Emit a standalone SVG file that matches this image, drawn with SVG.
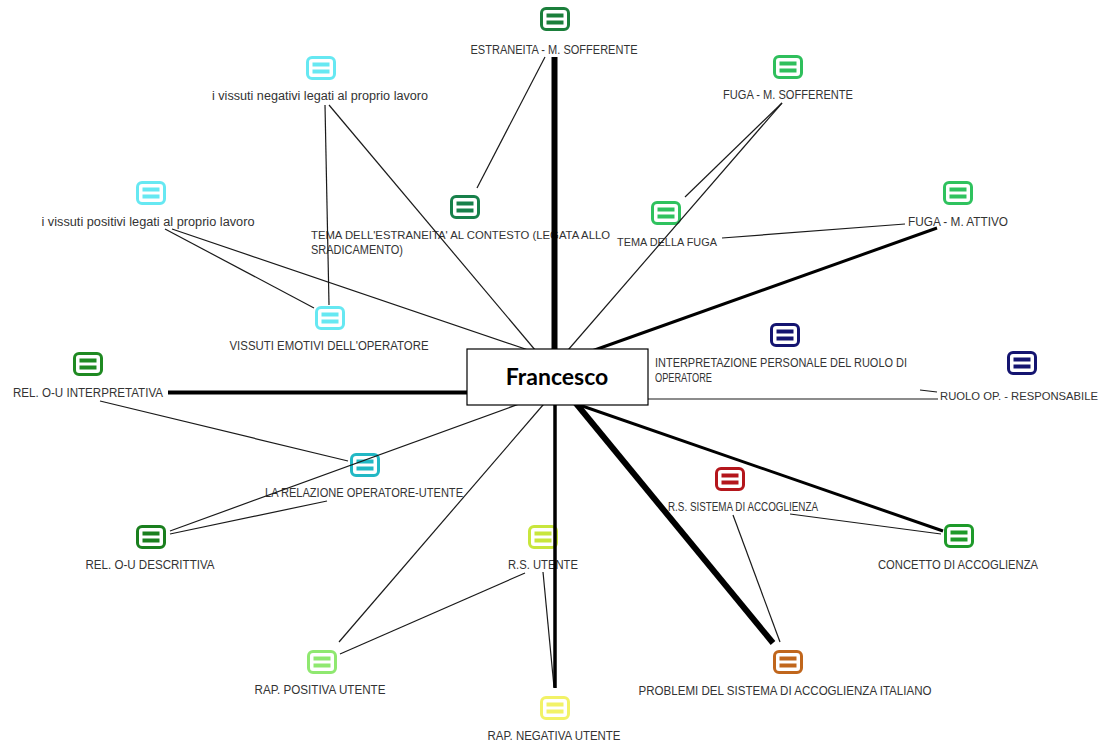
<svg xmlns="http://www.w3.org/2000/svg" xmlns:xlink="http://www.w3.org/1999/xlink" width="1108" height="746" viewBox="0 0 1108 746">
  <style>
    .lbl { font-family: "Liberation Sans", Arial, sans-serif; font-size: 12.5px; fill: #333333; }
    .sm { font-size: 11.3px; }
    .mid { text-anchor: middle; }
    .thin { stroke: #1a1a1a; stroke-width: 1.2; fill: none; }
    .thick { stroke: #000000; fill: none; }
    .hub { fill: #ffffff; stroke: #000000; stroke-width: 1.2; }
    .hubtxt { font-family: Lato, "Open Sans", sans-serif; font-weight: bold; font-size: 23px; fill: #000000; text-anchor: middle; }
  </style>
  <defs>
    <!-- note icon: rounded frame with two bars, coloured through currentColor -->
    <g id="note">
      <rect x="-13.5" y="-10.5" width="27" height="21" rx="4.5" fill="#ffffff" stroke="currentColor" stroke-width="3"/>
      <rect x="-8.5" y="-5.5" width="17" height="4" fill="currentColor"/>
      <rect x="-8.5" y="1.5" width="17" height="4" fill="currentColor"/>
    </g>
  </defs>
  <rect width="1108" height="746" fill="#ffffff"/>

  <!-- topic nodes -->
  <g id="n-estraneita-sofferente">
    <use xlink:href="#note" x="555" y="19" color="#1b7f3b"/>
    <text class="lbl mid" x="554" y="54" textLength="167" lengthAdjust="spacingAndGlyphs">ESTRANEITA - M. SOFFERENTE</text>
  </g>
  <g id="n-fuga-sofferente">
    <use xlink:href="#note" x="788" y="67" color="#2fbf5c"/>
    <text class="lbl mid" x="788" y="99" textLength="130" lengthAdjust="spacingAndGlyphs">FUGA - M. SOFFERENTE</text>
  </g>
  <g id="n-vissuti-negativi">
    <use xlink:href="#note" x="321" y="68" color="#66e8f2"/>
    <text class="lbl mid" x="320" y="100" textLength="216" lengthAdjust="spacingAndGlyphs">i vissuti negativi legati al proprio lavoro</text>
  </g>
  <g id="n-vissuti-positivi">
    <use xlink:href="#note" x="151" y="193" color="#66e8f2"/>
    <text class="lbl mid" x="148" y="226" textLength="213" lengthAdjust="spacingAndGlyphs">i vissuti positivi legati al proprio lavoro</text>
  </g>
  <g id="n-tema-estraneita">
    <use xlink:href="#note" x="465" y="207" color="#17804a"/>
    <text class="lbl sm" x="311" y="239" textLength="299" lengthAdjust="spacingAndGlyphs">TEMA DELL'ESTRANEITA' AL CONTESTO (LEGATA ALLO</text>
    <text class="lbl" x="311" y="254" textLength="92" lengthAdjust="spacingAndGlyphs">SRADICAMENTO)</text>
  </g>
  <g id="n-tema-fuga">
    <use xlink:href="#note" x="666" y="213" color="#2fc25e"/>
    <text class="lbl sm mid" x="667" y="246" textLength="100" lengthAdjust="spacingAndGlyphs">TEMA DELLA FUGA</text>
  </g>
  <g id="n-fuga-attivo">
    <use xlink:href="#note" x="958" y="193" color="#2fc25e"/>
    <text class="lbl mid" x="958" y="226" textLength="100" lengthAdjust="spacingAndGlyphs">FUGA - M. ATTIVO</text>
  </g>
  <g id="n-vissuti-emotivi">
    <use xlink:href="#note" x="330" y="318" color="#66e8f2"/>
    <text class="lbl mid" x="329" y="350" textLength="199" lengthAdjust="spacingAndGlyphs">VISSUTI EMOTIVI DELL'OPERATORE</text>
  </g>
  <g id="n-interpretazione">
    <use xlink:href="#note" x="785" y="335" color="#141470"/>
    <text class="lbl" x="655" y="367" textLength="252" lengthAdjust="spacingAndGlyphs">INTERPRETAZIONE PERSONALE DEL RUOLO DI</text>
    <text class="lbl" x="655" y="382" textLength="57" lengthAdjust="spacingAndGlyphs">OPERATORE</text>
  </g>
  <g id="n-ruolo-responsabile">
    <use xlink:href="#note" x="1022" y="363" color="#141470"/>
    <text class="lbl sm mid" x="1019" y="400" textLength="158" lengthAdjust="spacingAndGlyphs">RUOLO OP. - RESPONSABILE</text>
  </g>
  <g id="n-rel-interpretativa">
    <use xlink:href="#note" x="88" y="364" color="#1f8a22"/>
    <text class="lbl mid" x="88" y="397" textLength="150" lengthAdjust="spacingAndGlyphs">REL. O-U INTERPRETATIVA</text>
  </g>
  <g id="n-relazione-op-utente">
    <use xlink:href="#note" x="365" y="465" color="#22b8c4"/>
    <text class="lbl mid" x="364" y="497" textLength="198" lengthAdjust="spacingAndGlyphs">LA RELAZIONE OPERATORE-UTENTE</text>
  </g>
  <g id="n-rel-descrittiva">
    <use xlink:href="#note" x="151" y="537" color="#1a7f1e"/>
    <text class="lbl mid" x="150" y="569" textLength="129" lengthAdjust="spacingAndGlyphs">REL. O-U DESCRITTIVA</text>
  </g>
  <g id="n-rs-utente">
    <use xlink:href="#note" x="543" y="537" color="#c8e63c"/>
    <text class="lbl mid" x="543" y="569" textLength="70" lengthAdjust="spacingAndGlyphs">R.S. UTENTE</text>
  </g>
  <g id="n-rs-sistema">
    <use xlink:href="#note" x="730" y="479" color="#b4161c"/>
    <text class="lbl mid" x="743" y="511" textLength="150" lengthAdjust="spacingAndGlyphs">R.S. SISTEMA DI ACCOGLIENZA</text>
  </g>
  <g id="n-concetto-accoglienza">
    <use xlink:href="#note" x="959" y="536" color="#1e9a2a"/>
    <text class="lbl mid" x="958" y="569" textLength="160" lengthAdjust="spacingAndGlyphs">CONCETTO DI ACCOGLIENZA</text>
  </g>
  <g id="n-rap-positiva">
    <use xlink:href="#note" x="322" y="662" color="#8fe870"/>
    <text class="lbl mid" x="320" y="694" textLength="131" lengthAdjust="spacingAndGlyphs">RAP. POSITIVA UTENTE</text>
  </g>
  <g id="n-problemi-sistema">
    <use xlink:href="#note" x="788" y="662" color="#c0661c"/>
    <text class="lbl mid" x="785" y="695" textLength="293" lengthAdjust="spacingAndGlyphs">PROBLEMI DEL SISTEMA DI ACCOGLIENZA ITALIANO</text>
  </g>
  <g id="n-rap-negativa">
    <use xlink:href="#note" x="555" y="708" color="#f2f266"/>
    <text class="lbl mid" x="554" y="740" textLength="133" lengthAdjust="spacingAndGlyphs">RAP. NEGATIVA UTENTE</text>
  </g>

  <!-- connectors -->
  <g id="connectors">
    <line class="thin" x1="545" y1="57" x2="477" y2="188"/>
    <line class="thin" x1="325" y1="105" x2="329" y2="305"/>
    <line class="thin" x1="329" y1="105" x2="541" y2="357"/>
    <line class="thin" x1="165" y1="229" x2="314" y2="308"/>
    <line class="thin" x1="172" y1="229" x2="540" y2="354"/>
    <line class="thin" x1="782" y1="103" x2="685" y2="197"/>
    <line class="thin" x1="782" y1="103" x2="562" y2="357"/>
    <line class="thin" x1="722" y1="238" x2="905" y2="224"/>
    <line class="thin" x1="920" y1="390" x2="937" y2="392"/>
    <line class="thin" x1="640" y1="399" x2="938" y2="399"/>
    <line class="thin" x1="790" y1="514" x2="941" y2="534"/>
    <line class="thin" x1="733" y1="515" x2="780" y2="642"/>
    <line class="thin" x1="543" y1="572" x2="554" y2="687"/>
    <line class="thin" x1="525" y1="573" x2="340" y2="654"/>
    <line class="thin" x1="339" y1="642" x2="549" y2="398"/>
    <line class="thin" x1="170" y1="531" x2="530" y2="400"/>
    <line class="thin" x1="170" y1="534" x2="327" y2="501"/>
    <line class="thin" x1="100" y1="401" x2="348" y2="461"/>
    <line class="thick" stroke-width="6" x1="554.5" y1="57" x2="554.5" y2="360"/>
    <line class="thick" stroke-width="3" x1="937" y1="228" x2="575" y2="357"/>
    <line class="thick" stroke-width="4" x1="168" y1="392.5" x2="475" y2="392.5"/>
    <line class="thick" stroke-width="3" x1="943" y1="531" x2="565" y2="400"/>
    <line class="thick" stroke-width="6" x1="773" y1="643" x2="565" y2="390"/>
    <line class="thick" stroke-width="3.5" x1="555" y1="395" x2="555" y2="688"/>
  </g>

  <!-- central node -->
  <g id="n-francesco">
    <rect class="hub" x="467" y="349" width="181" height="56"/>
    <text class="hubtxt" x="557" y="385">Francesco</text>
  </g>
</svg>
